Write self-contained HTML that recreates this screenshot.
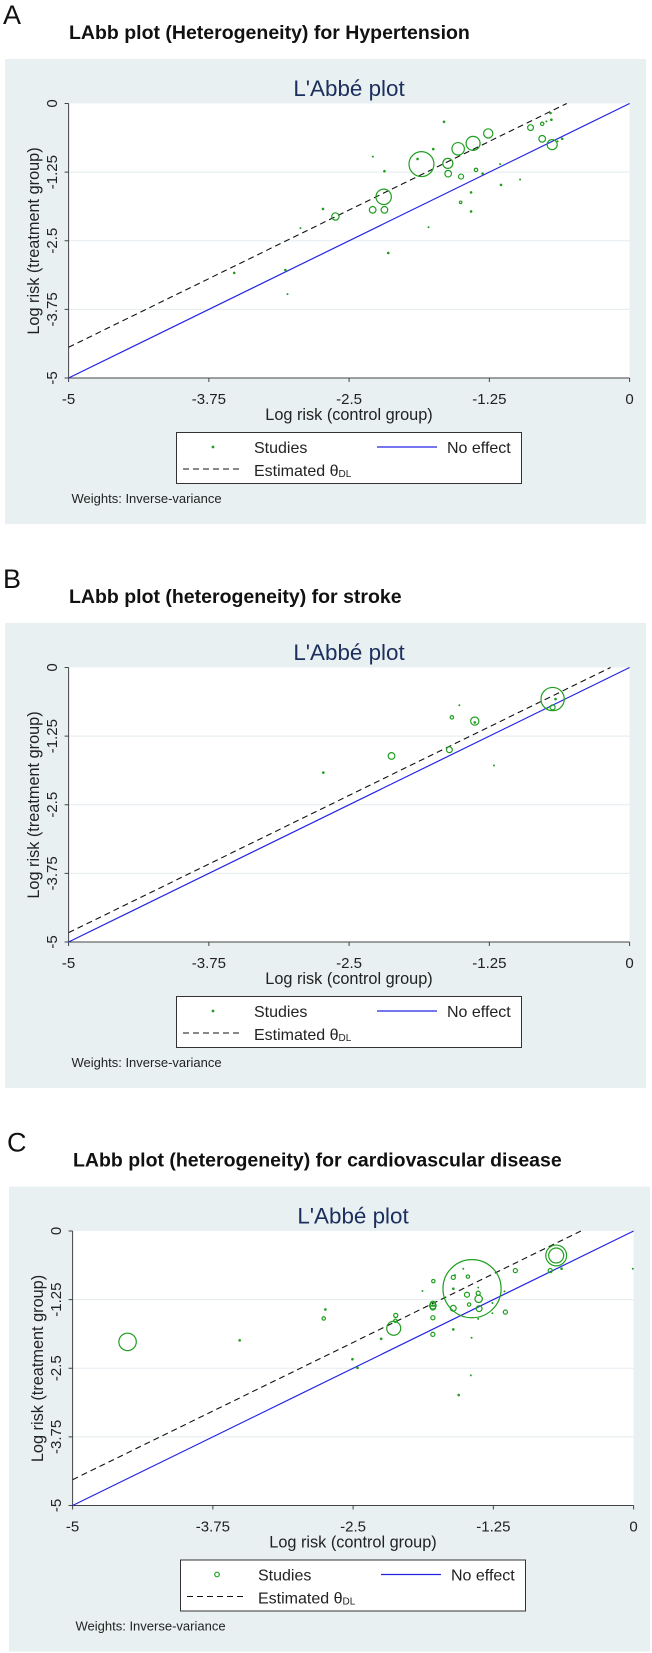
<!DOCTYPE html>
<html><head><meta charset="utf-8"><style>
html,body{margin:0;padding:0;background:#fff;}
svg{display:block;font-family:"Liberation Sans",Arial,sans-serif;}
</style></head><body>
<svg id="fig" width="652" height="1653" viewBox="0 0 652 1653" xmlns="http://www.w3.org/2000/svg"></svg>
<script>
// ---------- data ----------
const xTicks = [-5, -3.75, -2.5, -1.25, 0];
const yTicks = [0, -1.25, -2.5, -3.75, -5];
const xTickLabels = ["-5", "-3.75", "-2.5", "-1.25", "0"];
const yTickLabels = ["0", "-1.25", "-2.5", "-3.75", "-5"];

// Panel A: Hypertension
const aX = [-1.654,-1.855,-1.89,-1.75,-1.528,-1.395,-1.26,-1.62,-1.617,-1.502,-1.369,-1.31,-1.154,-1.146,-0.976,-1.413,-1.506,-1.413,-1.792,-2.151,-2.192,-2.29,-2.185,-2.185,-2.288,-2.622,-2.733,-2.934,-3.068,-3.049,-3.524,-0.883,-0.779,-0.742,-0.705,-0.697,-0.779,-0.69,-0.601,-0.642];
const aY = [-0.333,-1.104,-1.01,-0.83,-0.825,-0.726,-0.545,-1.09,-1.278,-1.331,-1.21,-1.278,-1.104,-1.483,-1.384,-1.619,-1.80,-1.967,-2.254,-2.723,-1.70,-1.937,-1.937,-1.233,-0.968,-2.058,-1.921,-2.269,-3.033,-3.472,-3.086,-0.439,-0.37,-0.325,-0.174,-0.295,-0.643,-0.749,-0.643,-0.688];
const aW = [0.5,92,0.5,0.5,23,29,12.5,15,6.5,3.7,1.7,0.5,0.2,0.5,0.2,0.5,0.9,0.5,0.2,0.5,35,6.5,6.5,0.5,0.2,8,0.5,0.2,0.5,0.2,0.5,5,1.7,0.2,0.5,0.5,6.5,15,0.5,0.2];
const aTheta = 0.56;

// Panel B: Stroke
const bX = [-0.686,-0.66,-0.686,-0.735,-1.38,-1.38,-1.584,-1.517,-1.606,-2.122,-2.73,-1.209];
const bY = [-0.575,-0.575,-0.726,-0.741,-0.976,-1.0,-0.908,-0.688,-1.498,-1.611,-1.914,-1.785];
const bW = [80,0.5,3.7,0.2,10,0.5,1.7,0.2,5,6.5,0.5,0.2];
const bTheta = 0.17;

// Panel C: Cardiovascular disease
const cX = [-4.51,-3.511,-2.747,-2.762,-2.138,-2.12,-2.123,-2.25,-2.506,-2.461,-1.44,-0.69,-0.69,-0.743,-0.642,-1.054,-0.007,-1.785,-1.882,-1.789,-1.789,-1.789,-1.789,-1.789,-1.607,-1.592,-1.518,-1.477,-1.607,-1.485,-1.385,-1.381,-1.466,-1.377,-1.607,-1.607,-1.444,-1.258,-1.258,-1.151,-1.143,-1.451,-1.559,-1.385,-1.385];
const cY = [-2.02,-1.992,-1.429,-1.593,-1.772,-1.538,-1.635,-1.964,-2.335,-2.493,-1.051,-0.446,-0.446,-0.721,-0.687,-0.721,-0.687,-0.913,-1.092,-1.36,-1.395,-1.325,-1.58,-1.882,-0.845,-0.804,-0.687,-0.831,-1.051,-1.161,-1.133,-1.236,-1.339,-1.415,-1.408,-1.793,-1.944,-1.312,-1.497,-1.099,-1.477,-2.63,-2.988,-1.6,-1.03];
const cW = [45,0.5,0.5,1.7,29,2.5,1.7,0.5,0.5,0.5,500,64,33,2.5,0.5,2.5,0.2,1.7,0.2,6.5,3.7,3.7,2.5,2.5,2.5,0.2,0.2,1.7,0.5,3.7,2.5,8,1.7,5,5,0.5,0.2,0.2,0.2,0.2,2.5,0.2,0.5,0.2,0.2];
const cTheta = 0.47;

// ---------- drawing ----------
const NS = "http://www.w3.org/2000/svg";
const svg = document.getElementById('fig');
const GREEN = "#1f9e1f", BLUE = "#2424e6";
function mk(tag, attrs, parent){
  const e = document.createElementNS(NS, tag);
  for (const k in attrs) e.setAttribute(k, attrs[k]);
  parent.appendChild(e);
  return e;
}
function txt(parent, s, attrs){ const t = mk('text', attrs, parent); t.textContent = s; return t; }

function drawPanel(p){
  const g = mk('g', {transform:`translate(${p.dx},${p.dy})`}, svg);
  
  
  const L = txt(g, p.letter, {x:3, y:24, 'font-size':27, fill:'#111'});
  
  
  const T = txt(g, p.title, {x:69, y:39, 'font-size':19.5, 'font-weight':'bold', fill:'#111'});
  
  
  const bg = mk('rect', {x:5, y:59, width:641, height:465, fill:'#e9f0f2'}, g);
  
  
  const sub = txt(g, "L'Abbé plot", {x:349, y:96, 'font-size':22.4, fill:'#1c2f5e', 'text-anchor':'middle'});
  
  
  const X0 = 68.6, Y0 = 103.5, W = 561, H = 274.5;
  const sx = v => X0 + (v + 5) / 5 * W;
  const sy = v => Y0 + (-v) / 5 * H;
  const pa = mk('rect', {x:X0, y:Y0, width:W, height:H, fill:'#fff'}, g);
  
  
  yTicks.forEach((v,i)=>{
    if (i>0 && i<yTicks.length-1){
      const gl = mk('line', {x1:X0, x2:X0+W, y1:sy(v), y2:sy(v), stroke:'#e3ecef', 'stroke-width':1}, g);
      
      
    }
  });
  const ya = mk('line', {x1:X0, x2:X0, y1:Y0, y2:Y0+H, stroke:'#444', 'stroke-width':1}, g);
  
  
  const xa = mk('line', {x1:X0, x2:X0+W, y1:Y0+H, y2:Y0+H, stroke:'#444', 'stroke-width':1}, g);
  
  
  xTicks.forEach((v,i)=>{
    const tk = mk('line', {x1:sx(v), x2:sx(v), y1:Y0+H, y2:Y0+H+4, stroke:'#444'}, g);
    
    
    const tl = txt(g, xTickLabels[i], {x:sx(v), y:404, 'font-size':15, fill:'#222', 'text-anchor':'middle'});
    
    
  });
  yTicks.forEach((v,i)=>{
    const tk = mk('line', {x1:X0-4, x2:X0, y1:sy(v), y2:sy(v), stroke:'#444'}, g);
    
    
    const tl = txt(g, yTickLabels[i], {x:0, y:0, 'font-size':15, fill:'#222', 'text-anchor':'middle', transform:`translate(57,${sy(v)}) rotate(-90)`});
    
    
  });
  const xt = txt(g, 'Log risk (control group)', {x:349, y:420, 'font-size':16.3, fill:'#222', 'text-anchor':'middle'});
  
  
  const yt = txt(g, 'Log risk (treatment group)', {x:0, y:0, 'font-size':16.3, fill:'#222', 'text-anchor':'middle', transform:`translate(39,241) rotate(-90)`});
  
  
  const ne = mk('line', {x1:sx(-5), y1:sy(-5), x2:sx(0), y2:sy(0), stroke:BLUE, 'stroke-width':1.2}, g);
  
  
  const th = p.theta;
  const es = mk('line', {x1:sx(-5), y1:sy(-5+th), x2:sx(-th), y2:sy(0), stroke:'#111', 'stroke-width':1.1, 'stroke-dasharray':'6,4'}, g);
  
  
  p.xs.forEach((xv,i)=>{
    const r = 1.3 * Math.sqrt(p.ws[i]);
    let c;
    if (r < 1.2) c = mk('circle', {cx:sx(xv), cy:sy(p.ys[i]), r:r+0.4, fill:GREEN}, g);
    else c = mk('circle', {cx:sx(xv), cy:sy(p.ys[i]), r:r, fill:'none', stroke:GREEN, 'stroke-width':1.2}, g);
    
    
  });
  const lg = mk('g', {}, g);
  
  
  mk('rect', {x:176.5, y:432.5, width:345, height:51, fill:'#fff', stroke:'#333', 'stroke-width':1}, lg);
  if (p.hollowLegend) mk('circle', {cx:213, cy:447, r:2.3, fill:'none', stroke:GREEN, 'stroke-width':1.2}, lg);
  else mk('circle', {cx:213, cy:447, r:1.4, fill:GREEN}, lg);
  const l1 = txt(lg, 'Studies', {x:254, y:453, 'font-size':16, fill:'#222'});
  
  
  mk('line', {x1:377, x2:437, y1:447, y2:447, stroke:BLUE, 'stroke-width':1.2}, lg);
  const l2 = txt(lg, 'No effect', {x:447, y:453, 'font-size':16, fill:'#222'});
  
  
  mk('line', {x1:183, x2:243, y1:469, y2:469, stroke:'#111', 'stroke-width':1.1, 'stroke-dasharray':'6,4'}, lg);
  const l3 = txt(lg, 'Estimated θ', {x:254, y:476, 'font-size':16, fill:'#222'});
  
  
  const ts = mk('tspan', {'font-size':10, dy:1}, l3); ts.textContent = 'DL';
  const wt = txt(g, 'Weights: Inverse-variance', {x:71.5, y:503, 'font-size':13, fill:'#222'});
  
  
}

drawPanel({name:'panel-a-hypertension', letter:'A', title:'LAbb plot (Heterogeneity) for Hypertension', dx:0, dy:0, xs:aX, ys:aY, ws:aW, theta:aTheta, hollowLegend:false});
drawPanel({name:'panel-b-stroke', letter:'B', title:'LAbb plot (heterogeneity) for stroke', dx:0, dy:564, xs:bX, ys:bY, ws:bW, theta:bTheta, hollowLegend:false});
drawPanel({name:'panel-c-cardiovascular', letter:'C', title:'LAbb plot (heterogeneity) for cardiovascular disease', dx:4, dy:1127.5, xs:cX, ys:cY, ws:cW, theta:cTheta, hollowLegend:true});
</script>
</body></html>
